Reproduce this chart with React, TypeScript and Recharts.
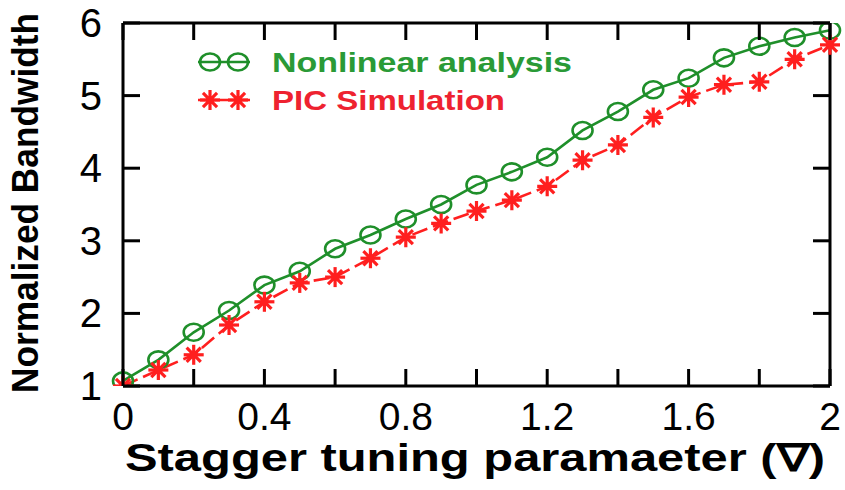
import React from 'react';
import { LineChart, Line, XAxis, YAxis, Label } from 'recharts';

const xValues = [0, 0.1, 0.2, 0.3, 0.4, 0.5, 0.6, 0.7, 0.8, 0.9, 1.0, 1.1, 1.2, 1.3, 1.4, 1.5, 1.6, 1.7, 1.8, 1.9, 2.0];
const nonlinear = [1.07, 1.36, 1.74, 2.04, 2.39, 2.58, 2.89, 3.08, 3.3, 3.5, 3.77, 3.95, 4.15, 4.52, 4.78, 5.08, 5.24, 5.52, 5.68, 5.8, 5.9];
const picSim = [1.0, 1.22, 1.43, 1.84, 2.16, 2.42, 2.5, 2.76, 3.05, 3.24, 3.41, 3.56, 3.75, 4.11, 4.32, 4.7, 4.98, 5.15, 5.19, 5.5, 5.7];
const xTicks = [0, 0.2, 0.4, 0.6, 0.8, 1.0, 1.2, 1.4, 1.6, 1.8, 2.0];
const xTickLabels = ['0', '', '0.4', '', '0.8', '', '1.2', '', '1.6', '', '2'];
const yTicks = [1, 2, 3, 4, 5, 6];

const GREEN = '#1f8f2a';
const RED = '#ff1f1f';
const FONT = '"Liberation Sans", Arial, sans-serif';
const TICK = 17;

// chart box: 845x490, plot area 123..830 x 23..386
const W = 845;
const H = 490;
const MARGIN = { top: 3, right: 5, bottom: 4, left: 3 };
const X_AXIS_H = 100;
const TOP_AXIS_H = 20;
const Y_AXIS_W = 120;
const RIGHT_AXIS_W = 10;
const PLOT = {
  left: MARGIN.left + Y_AXIS_W,
  right: W - MARGIN.right - RIGHT_AXIS_W,
  top: MARGIN.top + TOP_AXIS_H,
  bottom: H - MARGIN.bottom - X_AXIS_H,
};

const data = xValues.map((x, i) => ({ x, nonlinear: nonlinear[i], pic: picSim[i] }));

function HexDot({ cx, cy }: any) {
  if (cx == null || cy == null) return null;
  return <ellipse cx={cx} cy={cy} rx={10} ry={8.5} fill="none" stroke={GREEN} strokeWidth={2.6} />;
}

function StarDot({ cx, cy }: any) {
  if (cx == null || cy == null) return null;
  const r = 10;
  const arms = [0, 45, 90, 135].map((a) => {
    const t = (a * Math.PI) / 180;
    return (
      <line key={a} x1={cx - r * Math.cos(t)} y1={cy - r * Math.sin(t)} x2={cx + r * Math.cos(t)} y2={cy + r * Math.sin(t)} stroke={RED} strokeWidth={3.2} />
    );
  });
  return (
    <g>
      {arms}
      <circle cx={cx} cy={cy} r={4} fill={RED} />
    </g>
  );
}

function BottomTick({ x, payload }: any) {
  const idx = xTicks.findIndex((t) => Math.abs(t - payload.value) < 1e-6);
  const label = idx >= 0 ? xTickLabels[idx] : '';
  if (!label) return null;
  return (
    <text x={x} y={430} textAnchor="middle" fontFamily={FONT} fontSize={39} fill="#000">
      {label}
    </text>
  );
}

function LeftTick({ y, payload }: any) {
  return (
    <text x={102} y={y + 14} textAnchor="end" fontFamily={FONT} fontSize={40} fill="#000">
      {payload.value}
    </text>
  );
}

function XTitle() {
  return (
    <text x={475} y={471} textAnchor="middle" fontFamily={FONT} fontWeight="bold" fontSize={38} textLength={700} lengthAdjust="spacingAndGlyphs" fill="#000">
      Stagger tuning paramaeter (∇)
    </text>
  );
}

function YTitle() {
  return (
    <text x={0} y={0} transform="translate(38,203) rotate(-90)" textAnchor="middle" fontFamily={FONT} fontWeight="bold" fontSize={36} textLength={380} lengthAdjust="spacingAndGlyphs" fill="#000">
      Normalized Bandwidth
    </text>
  );
}

// inward tick marks on all four sides, drawn on top of the chart
function TickOverlay() {
  const px = (v: number) => PLOT.left + ((v - 0) / (2 - 0)) * (PLOT.right - PLOT.left);
  const py = (v: number) => PLOT.bottom - ((v - 1) / (6 - 1)) * (PLOT.bottom - PLOT.top);
  return (
    <svg width={W} height={H} style={{ position: 'absolute', left: 0, top: 0, pointerEvents: 'none' }}>
      {xTicks.map((t) => (
        <g key={'x' + t}>
          <line x1={px(t)} y1={PLOT.bottom} x2={px(t)} y2={PLOT.bottom - TICK} stroke="#000" strokeWidth={3} />
          <line x1={px(t)} y1={PLOT.top} x2={px(t)} y2={PLOT.top + TICK} stroke="#000" strokeWidth={3} />
        </g>
      ))}
      {yTicks.map((t) => (
        <g key={'y' + t}>
          <line x1={PLOT.left} y1={py(t)} x2={PLOT.left + TICK} y2={py(t)} stroke="#000" strokeWidth={3} />
          <line x1={PLOT.right} y1={py(t)} x2={PLOT.right - TICK} y2={py(t)} stroke="#000" strokeWidth={3} />
        </g>
      ))}
    </svg>
  );
}

function LegendBox() {
  return (
    <svg width={420} height={80} style={{ position: 'absolute', left: 190, top: 45 }}>
      <line x1={8} y1={17} x2={60} y2={17} stroke={GREEN} strokeWidth={2.6} />
      <HexDot cx={20} cy={17} />
      <HexDot cx={48} cy={17} />
      <text x={82} y={27} fontFamily={FONT} fontWeight="bold" fontSize={27} textLength={300} lengthAdjust="spacingAndGlyphs" fill="#2a9a36">
        Nonlinear analysis
      </text>
      <line x1={8} y1={55} x2={60} y2={55} stroke={RED} strokeWidth={2.6} />
      <StarDot cx={20} cy={55} />
      <StarDot cx={48} cy={55} />
      <text x={82} y={65} fontFamily={FONT} fontWeight="bold" fontSize={27} textLength={233} lengthAdjust="spacingAndGlyphs" fill="#ee2230">
        PIC Simulation
      </text>
    </svg>
  );
}

export default function App() {
  return (
    <div style={{ position: 'absolute', left: 0, top: 0, width: W, height: H, background: '#fff' }}>
      <LineChart width={W} height={H} data={data} margin={MARGIN}>
        <XAxis
          xAxisId="bottom"
          dataKey="x"
          type="number"
          domain={[0, 2]}
          ticks={xTicks}
          height={X_AXIS_H}
          tickSize={0}
          tickMargin={0}
          tickLine={false}
          tick={<BottomTick />}
          axisLine={{ stroke: '#000', strokeWidth: 3 }}
          interval={0}
        >
          <Label content={<XTitle />} />
        </XAxis>
        <XAxis
          xAxisId="top"
          orientation="top"
          dataKey="x"
          type="number"
          domain={[0, 2]}
          height={TOP_AXIS_H}
          tick={false}
          tickLine={false}
          axisLine={{ stroke: '#000', strokeWidth: 3 }}
        />
        <YAxis
          yAxisId="left"
          type="number"
          domain={[1, 6]}
          ticks={yTicks}
          width={Y_AXIS_W}
          tickSize={0}
          tickMargin={0}
          tickLine={false}
          tick={<LeftTick />}
          axisLine={{ stroke: '#000', strokeWidth: 3 }}
          interval={0}
          allowDataOverflow
        >
          <Label content={<YTitle />} />
        </YAxis>
        <YAxis
          yAxisId="right"
          orientation="right"
          type="number"
          domain={[1, 6]}
          width={RIGHT_AXIS_W}
          tick={false}
          tickLine={false}
          axisLine={{ stroke: '#000', strokeWidth: 3 }}
        />
        <Line
          xAxisId="bottom"
          yAxisId="left"
          type="linear"
          dataKey="nonlinear"
          stroke={GREEN}
          strokeWidth={2.6}
          dot={<HexDot />}
          activeDot={false}
          isAnimationActive={false}
        />
        <Line
          xAxisId="bottom"
          yAxisId="left"
          type="linear"
          dataKey="pic"
          stroke={RED}
          strokeWidth={2.6}
          strokeDasharray="16 6"
          dot={<StarDot />}
          activeDot={false}
          isAnimationActive={false}
        />
      </LineChart>
      <TickOverlay />
      <LegendBox />
    </div>
  );
}
